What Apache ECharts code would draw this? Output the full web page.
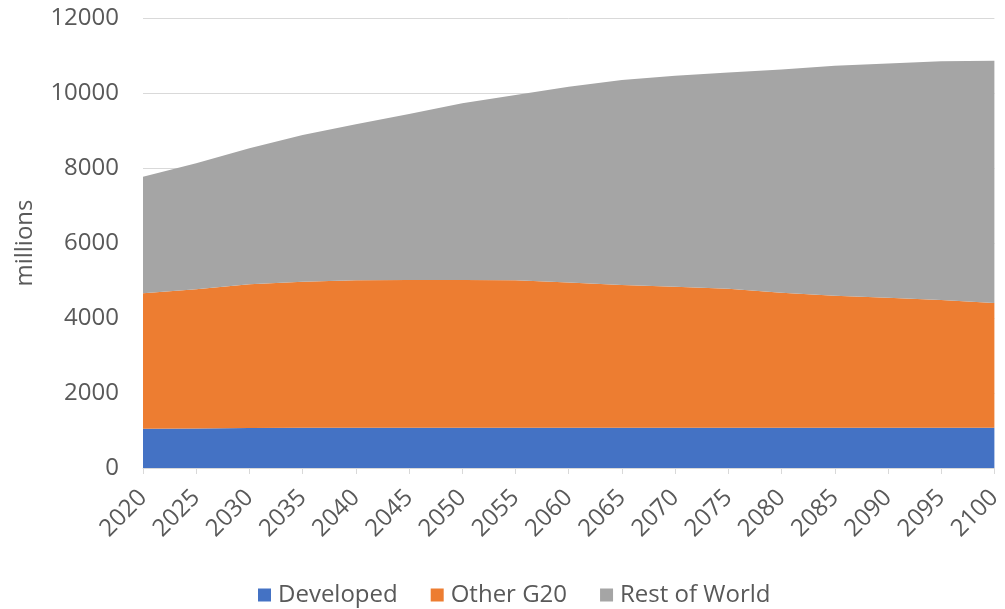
<!DOCTYPE html>
<html>
<head>
<meta charset="utf-8">
<script src="https://cdn.jsdelivr.net/npm/echarts@6/dist/echarts.min.js"></script>
<style>
  html, body { margin: 0; padding: 0; background: #fff; }
  #chart { width: 1005px; height: 609px; }
</style>
</head>
<body>
<div id="chart"></div>
<script>
// Population projection by group, in millions
const years = ['2020','2025','2030','2035','2040','2045','2050','2055','2060',
               '2065','2070','2075','2080','2085','2090','2095','2100'];
const developed = [1045, 1055, 1070, 1075, 1075, 1075, 1075, 1075, 1075,
                   1075, 1075, 1075, 1075, 1075, 1075, 1075, 1075];
const otherG20 = [3615, 3715, 3830, 3895, 3930, 3938, 3938, 3935, 3875,
                  3805, 3760, 3705, 3600, 3520, 3465, 3405, 3325];
const restOfWorld = [3110, 3355, 3630, 3910, 4165, 4427, 4712, 4937, 5220,
                     5467, 5625, 5770, 5955, 6135, 6250, 6370, 6460];
const yTicks = { min: 0, max: 12000, interval: 2000 };

const FONT = 'Open Sans';
const TEXT = '#595959';

const chart = echarts.init(document.getElementById('chart'), null, { renderer: 'canvas' });

function areaSeries(name, data, color) {
  return {
    name: name,
    type: 'line',
    stack: 'total',
    data: data,
    symbol: 'none',
    lineStyle: { width: 0 },
    areaStyle: { color: color, opacity: 1 },
    itemStyle: { color: color },
    emphasis: { disabled: true }
  };
}

chart.setOption({
  animation: false,
  textStyle: { fontFamily: FONT },
  grid: { left: 143, right: 8, top: 18, bottom: 141, containLabel: false },
  legend: {
    top: 578,
    left: 253,
    itemWidth: 13,
    itemHeight: 13,
    itemGap: 33,
    icon: 'rect',
    textStyle: { color: TEXT, fontSize: 24, fontFamily: FONT, padding: [0, 0, 0, 2] },
    data: ['Developed', 'Other G20', 'Rest of World']
  },
  xAxis: {
    type: 'category',
    data: years,
    boundaryGap: false,
    axisLine: { lineStyle: { color: '#d9d9d9', width: 1 } },
    axisTick: { show: true, length: 6, lineStyle: { color: '#d9d9d9' }, alignWithLabel: true },
    axisLabel: { rotate: 45, color: TEXT, fontSize: 24, margin: 26, interval: 0 },
    splitLine: { show: false }
  },
  yAxis: {
    type: 'value',
    min: yTicks.min,
    max: yTicks.max,
    interval: yTicks.interval,
    name: 'millions',
    nameLocation: 'middle',
    nameRotate: 90,
    nameGap: 106,
    nameTextStyle: { color: TEXT, fontSize: 24, fontFamily: FONT },
    axisLine: { show: false },
    axisTick: { show: false },
    axisLabel: { color: TEXT, fontSize: 24, margin: 24, formatter: function (v) { return String(v); } },
    splitLine: { lineStyle: { color: '#d9d9d9', width: 1 } }
  },
  series: [
    areaSeries('Developed', developed, '#4472C4'),
    areaSeries('Other G20', otherG20, '#ED7D31'),
    areaSeries('Rest of World', restOfWorld, '#A5A5A5')
  ]
});
</script>
</body>
</html>
